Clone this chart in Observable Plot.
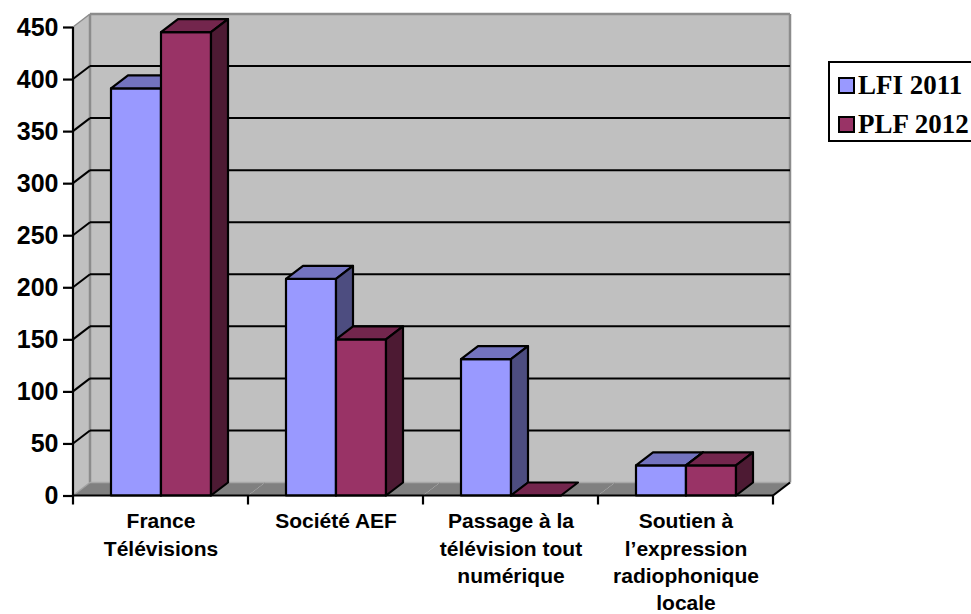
<!DOCTYPE html>
<html>
<head>
<meta charset="utf-8">
<script src="https://cdn.jsdelivr.net/npm/d3@7"></script>
<script src="https://cdn.jsdelivr.net/npm/@observablehq/plot@0.6"></script>
<style>
  html, body { margin: 0; padding: 0; background: #fff; overflow: hidden; }
  #wrap { position: relative; width: 971px; height: 614px; overflow: hidden; }
  #legend { position: absolute; left: 828px; top: 61px; width: 160px; height: 81px;
    border: 2px solid #000; background: #fff; font-family: "Liberation Serif", "Times New Roman", serif;
    font-weight: bold; font-size: 27px; box-sizing: border-box; }
  .row { position: absolute; left: 8px; display: flex; align-items: center; height: 30px; white-space: nowrap; }
  .sw { width: 13px; height: 13px; border: 2px solid #000; margin-right: 3px; }
</style>
</head>
<body>
<div id="wrap"></div>
<script>
const categories = ["France Télévisions", "Société AEF", "Passage à la télévision tout numérique", "Soutien à l’expression radiophonique locale"];
const categoryLabels = ["France\nTélévisions", "Société AEF", "Passage à la\ntélévision tout\nnumérique", "Soutien à\nl’expression\nradiophonique\nlocale"];
const series = ["LFI 2011", "PLF 2012"];
const lfi2011 = [391, 208, 131, 29];
const plf2012 = [445, 150, 0, 29];
const yTicks = [0, 50, 100, 150, 200, 250, 300, 350, 400, 450];
const seriesColors = ["#9999FF", "#993366"];

const rows = [];
categories.forEach((c, i) => {
  rows.push({cat: c, series: series[0], value: lfi2011[i]});
  rows.push({cat: c, series: series[1], value: plf2012[i]});
});

const DX = 17, DY = -13;

function shade(col, k) {
  const c = d3.rgb(col);
  return d3.rgb(c.r * k, c.g * k, c.b * k).formatHex();
}

function decor(index, scales, values, dimensions, context) {
  const g = d3.create("svg:g");
  const [L, R] = scales.x.range();
  const y0 = scales.y(0), yt = scales.y(450);
  const k = index[0];
  const first = k === 0, last = k === categories.length - 1;
  g.append("rect").attr("x", L + DX).attr("y", yt + DY).attr("width", R - L).attr("height", y0 - yt)
    .attr("fill", "#C0C0C0");
  g.append("path").attr("d", `M${L},${y0}H${R}L${R + DX},${y0 + DY}H${L + DX}Z`).attr("fill", "#808080");
  if (first) {
    g.append("path").attr("d", `M${L},${y0}V${yt}L${L + DX},${yt + DY}V${y0 + DY}Z`).attr("fill", "#C0C0C0");
    g.append("line").attr("x1", L + DX).attr("x2", L + DX).attr("y1", yt + DY).attr("y2", y0 + DY)
      .attr("stroke", "#8c8c8c").attr("stroke-width", 2.5);
    g.append("line").attr("x1", L).attr("x2", L + DX).attr("y1", yt).attr("y2", yt + DY)
      .attr("stroke", "#8c8c8c").attr("stroke-width", 1.5);
    g.append("line").attr("x1", L).attr("x2", L + DX).attr("y1", y0).attr("y2", y0 + DY)
      .attr("stroke", "#a0a0a0").attr("stroke-width", 1.5);
    for (const v of yTicks.slice(1, -1)) {
      g.append("line").attr("x1", L).attr("x2", L + DX).attr("y1", scales.y(v)).attr("y2", scales.y(v) + DY)
        .attr("stroke", "#000").attr("stroke-width", 2);
    }
  }
  g.append("line").attr("x1", L + DX).attr("x2", R + DX).attr("y1", y0 + DY).attr("y2", y0 + DY)
    .attr("stroke", "#a8a8a8").attr("stroke-width", 1.5);
  g.append("line").attr("x1", L + DX).attr("x2", R + DX).attr("y1", yt + DY).attr("y2", yt + DY)
    .attr("stroke", "#8c8c8c").attr("stroke-width", 2.5);
  if (last) {
    g.append("line").attr("x1", R + DX).attr("x2", R + DX).attr("y1", yt + DY).attr("y2", y0 + DY)
      .attr("stroke", "#8c8c8c").attr("stroke-width", 2.5);
  }
  for (const v of yTicks.slice(1, -1)) {
    g.append("line").attr("x1", L + DX).attr("x2", R + DX).attr("y1", scales.y(v) + DY).attr("y2", scales.y(v) + DY)
      .attr("stroke", "#000").attr("stroke-width", 2);
  }
  return g.node();
}

function axesFront(index, scales, values, dimensions, context) {
  const g = d3.create("svg:g").attr("stroke", "#000").attr("stroke-width", 2.2).attr("fill", "none");
  const [L, R] = scales.x.range();
  const y0 = scales.y(0), yt = scales.y(450);
  const k = index[0];
  const first = k === 0, last = k === categories.length - 1;
  g.append("line").attr("x1", L).attr("x2", R).attr("y1", y0).attr("y2", y0);
  g.append("line").attr("x1", L).attr("x2", L).attr("y1", y0).attr("y2", y0 + 9);
  if (first) {
    g.append("line").attr("x1", L).attr("x2", L).attr("y1", yt).attr("y2", y0);
  }
  if (last) {
    g.append("line").attr("x1", R).attr("x2", R).attr("y1", y0).attr("y2", y0 + 9);
    g.append("line").attr("x1", R).attr("x2", R + DX).attr("y1", y0).attr("y2", y0 + DY);
  }
  return g.node();
}

function box3d(index, scales, values, dimensions, context) {
  const g = d3.create("svg:g").attr("stroke", "#000").attr("stroke-width", 2.2).attr("stroke-linejoin", "round");
  const bw = scales.x.bandwidth();
  const X = values.x || values.x1;
  for (const i of index) {
    const x0 = X[i], x1 = x0 + bw;
    const yb = Math.max(values.y1[i], values.y2[i]);
    const yt = Math.min(values.y1[i], values.y2[i]);
    const col = values.fill[i];
    g.append("path").attr("d", `M${x0},${yt}H${x1}V${yb}H${x0}Z`).attr("fill", col);
    g.append("path").attr("d", `M${x0},${yt}L${x0 + DX},${yt + DY}H${x1 + DX}L${x1},${yt}Z`).attr("fill", shade(col, 0.75));
    if (yb > yt) {
      g.append("path").attr("d", `M${x1},${yt}L${x1 + DX},${yt + DY}V${yb + DY}L${x1},${yb}Z`).attr("fill", shade(col, 0.5));
    }
  }
  return g.node();
}

const chart = Plot.plot({
  width: 971,
  height: 614,
  marginLeft: 73,
  marginRight: 198,
  marginTop: 27,
  marginBottom: 118.5,
  style: {fontFamily: "'Liberation Sans', Arial, sans-serif", color: "#000", background: "transparent"},
  fx: {domain: categories, padding: 0, axis: null},
  x: {domain: series, paddingInner: 0, paddingOuter: 0.75, axis: null},
  y: {domain: [0, 450], axis: null},
  color: {domain: series, range: seriesColors},
  marks: [
    Plot.ruleY(categories, {fx: d => d, y: () => 0, render: decor}),
    Plot.barY(rows, {fx: "cat", x: "series", y: "value", fill: "series", render: box3d}),
    Plot.ruleY(categories, {fx: d => d, y: () => 0, render: axesFront}),
    Plot.axisY({ticks: yTicks, tickSize: 10, tickPadding: 5, fontSize: 25, fontWeight: "bold",
      strokeWidth: 2.2, label: null, tickFormat: d => String(d)}),
    Plot.text(categories, {fx: d => d, text: (d, i) => categoryLabels[i], frameAnchor: "bottom",
      lineAnchor: "top", dy: 13, fontSize: 21, fontWeight: "bold", lineHeight: 1.3})
  ]
});

const wrap = document.getElementById("wrap");
wrap.appendChild(chart);

const legend = document.createElement("div");
legend.id = "legend";
series.forEach((s, i) => {
  const row = document.createElement("div");
  row.className = "row";
  row.style.top = (7 + i * 39) + "px";
  const sw = document.createElement("span");
  sw.className = "sw";
  sw.style.background = seriesColors[i];
  const t = document.createElement("span");
  t.textContent = s;
  row.appendChild(sw);
  row.appendChild(t);
  legend.appendChild(row);
});
wrap.appendChild(legend);
</script>
</body>
</html>
